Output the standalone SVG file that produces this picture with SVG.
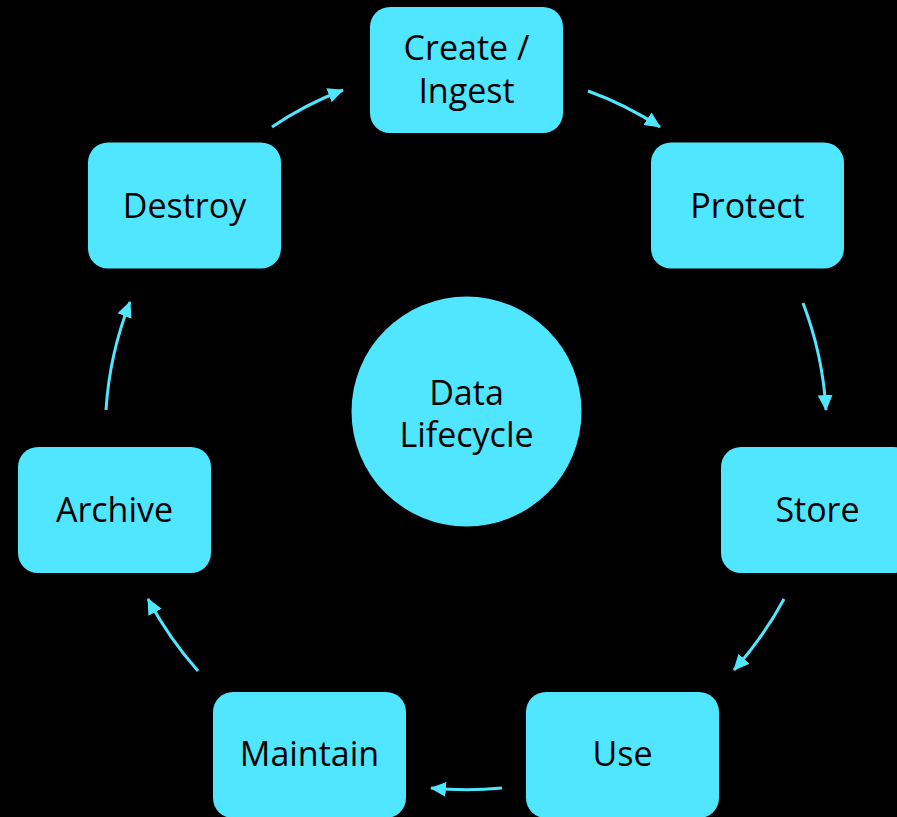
<svg xmlns="http://www.w3.org/2000/svg" width="897" height="817" viewBox="0 0 897 817">
<style>
.node{fill:#50E6FF;}
.lbl{font-family:"Open Sans","Noto Sans","Liberation Sans",sans-serif;font-size:34px;fill:#000;text-anchor:middle;}
.conn{fill:none;stroke:#50E6FF;stroke-width:3;}
</style>
<defs>
<marker id="ah" viewBox="0 0 16 16" refX="15" refY="8" markerWidth="16" markerHeight="16" markerUnits="userSpaceOnUse" orient="auto">
<path d="M0,0.5 L16,8 L0,15.5 z" fill="#50E6FF"/>
</marker>
</defs>
<rect width="897" height="817" fill="#000"/>
<g id="connectors">
<path class="conn" marker-end="url(#ah)" d="M272,127 A344,344 0 0 1 343,90"/>
<path class="conn" marker-end="url(#ah)" d="M588,91 A343,343 0 0 1 660,127"/>
<path class="conn" marker-end="url(#ah)" d="M803,303 A357,357 0 0 1 826,410"/>
<path class="conn" marker-end="url(#ah)" d="M784,599 A371,371 0 0 1 734,670"/>
<path class="conn" marker-end="url(#ah)" d="M502,788 A379,379 0 0 1 431,788"/>
<path class="conn" marker-end="url(#ah)" d="M198,671 A371,371 0 0 1 148,599"/>
<path class="conn" marker-end="url(#ah)" d="M106,410 A357,357 0 0 1 130,302"/>
</g>
<g id="center">
<circle class="node" cx="466.5" cy="411.5" r="115"/>
<text class="lbl" x="466.5" y="405">Data</text>
<text class="lbl" x="466.5" y="447">Lifecycle</text>
</g>
<g id="create">
<rect class="node" x="370" y="7" width="193" height="126" rx="20"/>
<text class="lbl" x="466.5" y="60">Create /</text>
<text class="lbl" x="466.5" y="103">Ingest</text>
</g>
<g id="protect">
<rect class="node" x="651" y="142.5" width="193" height="126" rx="20"/>
<text class="lbl" x="747.5" y="218">Protect</text>
</g>
<g id="store">
<rect class="node" x="721" y="447" width="193" height="126" rx="20"/>
<text class="lbl" x="817.5" y="522">Store</text>
</g>
<g id="use">
<rect class="node" x="526" y="692" width="193" height="126" rx="20"/>
<text class="lbl" x="622.5" y="766">Use</text>
</g>
<g id="maintain">
<rect class="node" x="213" y="692" width="193" height="126" rx="20"/>
<text class="lbl" x="309.5" y="766">Maintain</text>
</g>
<g id="archive">
<rect class="node" x="18" y="447" width="193" height="126" rx="20"/>
<text class="lbl" x="114.5" y="522">Archive</text>
</g>
<g id="destroy">
<rect class="node" x="88" y="142.5" width="193" height="126" rx="20"/>
<text class="lbl" x="184.5" y="218">Destroy</text>
</g>
</svg>
